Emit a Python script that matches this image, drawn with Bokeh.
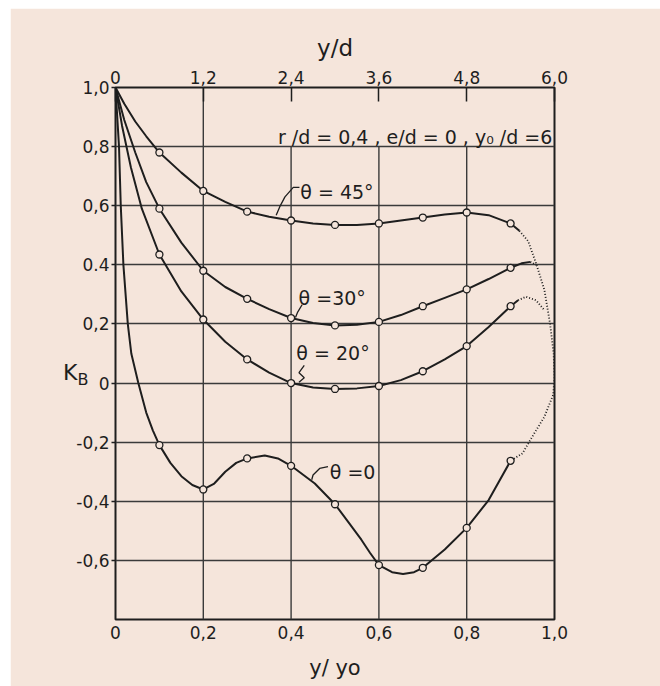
from bokeh.plotting import figure
from bokeh.models import Range1d, LinearAxis, FixedTicker, Label
from bokeh.embed import file_html
from bokeh.resources import INLINE

# ---------------- data ----------------
# marker positions (y/y0) and K_B values
x_pts = [0.1, 0.2, 0.3, 0.4, 0.5, 0.6, 0.7, 0.8, 0.9]
k45_pts = [0.78, 0.65, 0.58, 0.55, 0.535, 0.54, 0.56, 0.577, 0.54]
k30_pts = [0.59, 0.38, 0.285, 0.22, 0.195, 0.207, 0.26, 0.317, 0.39]
k20_pts = [0.435, 0.215, 0.08, 0.0, -0.02, -0.01, 0.04, 0.125, 0.26]
k0_pts = [-0.21, -0.36, -0.255, -0.28, -0.41, -0.616, -0.625, -0.49, -0.263]

# traced curve paths
c45_x = [0, 0.02, 0.045, 0.07, 0.1, 0.15, 0.2, 0.25, 0.3, 0.35, 0.4, 0.45, 0.5, 0.55,
         0.6, 0.65, 0.7, 0.75, 0.8, 0.85, 0.9, 0.92]
c45_y = [1.0, 0.945, 0.885, 0.835, 0.78, 0.712, 0.65, 0.613, 0.58, 0.563, 0.55, 0.54,
         0.535, 0.535, 0.54, 0.55, 0.56, 0.57, 0.577, 0.568, 0.54, 0.515]
c30_x = [0, 0.02, 0.045, 0.07, 0.1, 0.15, 0.2, 0.25, 0.3, 0.35, 0.4, 0.45, 0.5, 0.55,
         0.6, 0.65, 0.7, 0.75, 0.8, 0.85, 0.9, 0.925, 0.945]
c30_y = [1.0, 0.89, 0.78, 0.68, 0.59, 0.475, 0.38, 0.325, 0.285, 0.25, 0.22, 0.203,
         0.195, 0.197, 0.207, 0.23, 0.26, 0.288, 0.317, 0.352, 0.39, 0.405, 0.41]
c20_x = [0, 0.015, 0.035, 0.06, 0.1, 0.15, 0.2, 0.25, 0.3, 0.35, 0.4, 0.45, 0.5, 0.55,
         0.6, 0.65, 0.7, 0.75, 0.8, 0.85, 0.9, 0.917]
c20_y = [1.0, 0.87, 0.73, 0.59, 0.435, 0.31, 0.215, 0.14, 0.08, 0.035, 0.0, -0.015,
         -0.02, -0.018, -0.01, 0.01, 0.04, 0.08, 0.125, 0.19, 0.26, 0.28]
c0_x = [0, 0.008, 0.012, 0.018, 0.028, 0.036, 0.052, 0.07, 0.085, 0.1, 0.125, 0.15,
        0.175, 0.2, 0.225, 0.25, 0.275, 0.3, 0.34, 0.37, 0.4, 0.454, 0.5, 0.53, 0.56,
        0.58, 0.6, 0.63, 0.655, 0.68, 0.7, 0.75, 0.8, 0.85, 0.9]
c0_y = [1.0, 0.8, 0.6, 0.4, 0.2, 0.1, 0.0, -0.1, -0.16, -0.21, -0.27, -0.315,
        -0.345, -0.36, -0.34, -0.30, -0.27, -0.255, -0.245, -0.255, -0.28, -0.34,
        -0.41, -0.47, -0.53, -0.575, -0.616, -0.64, -0.646, -0.64, -0.625, -0.563,
        -0.49, -0.396, -0.263]

# dotted extrapolations
dot_x = [0.92, 0.94, 0.958, 0.977, 0.99, 0.998, 1.0, 0.997, 0.977, 0.95, 0.927, 0.9]
dot_y = [0.515, 0.48, 0.405, 0.315, 0.2, 0.1, 0.02, -0.04, -0.114, -0.18, -0.238, -0.263]
dot30_x = [0.945, 0.958]
dot30_y = [0.41, 0.40]
dot20_x = [0.917, 0.935, 0.958, 0.975]
dot20_y = [0.28, 0.292, 0.28, 0.25]

# ticks and labels
x_ticks = [0, 0.2, 0.4, 0.6, 0.8, 1.0]
x_labels = ["0", "0,2", "0,4", "0,6", "0,8", "1,0"]
top_labels = ["0", "1,2", "2,4", "3,6", "4,8", "6,0"]
y_ticks = [-0.6, -0.4, -0.2, 0, 0.2, 0.4, 0.6, 0.8, 1.0]
y_labels = ["-0,6", "-0,4", "-0,2", "0", "0,2", "0.4", "0,6", "0,8", "1,0"]
grid_y = [-0.6, -0.4, -0.2, 0, 0.2, 0.4, 0.6, 0.8]
full_vgrid = [0.2]
part_vgrid = [0.4, 0.6, 0.8]

# ---------------- style ----------------
BG = "#f5e5db"
INK = "#1e1e1e"
GRID = "#3a3a3a"
FONT = "DejaVu Sans"

p = figure(width=650, height=678, x_range=Range1d(0, 1), y_range=Range1d(-0.8, 1.0),
           output_backend="svg", toolbar_location=None,
           min_border_left=105, min_border_right=106, min_border_top=79, min_border_bottom=67,
           background_fill_color=BG, border_fill_color=BG,
           outline_line_color=INK, outline_line_width=2)
p.margin = (8, 0, 0, 10)

p.xgrid.visible = False
p.ygrid.ticker = FixedTicker(ticks=grid_y)
p.ygrid.grid_line_color = GRID
p.ygrid.grid_line_width = 1.4

# vertical grid lines
p.segment(x0=full_vgrid, y0=[-0.8] * len(full_vgrid), x1=full_vgrid, y1=[1.0] * len(full_vgrid),
          line_color=GRID, line_width=1.4)
p.segment(x0=part_vgrid, y0=[-0.8] * len(part_vgrid), x1=part_vgrid, y1=[0.8] * len(part_vgrid),
          line_color=GRID, line_width=1.4)


def style_axis(ax, ticks, labels, size="17px"):
    ax.ticker = FixedTicker(ticks=ticks)
    ax.major_label_overrides = {t: l for t, l in zip(ticks, labels)}
    ax.minor_tick_line_color = None
    ax.axis_line_color = None
    ax.major_tick_line_color = INK
    ax.major_tick_line_width = 1.5
    ax.major_label_text_font = FONT
    ax.major_label_text_font_size = size
    ax.major_label_text_color = INK
    ax.axis_label_text_font = FONT
    ax.axis_label_text_font_style = "normal"
    ax.axis_label_text_color = INK


xb = p.xaxis[0]
style_axis(xb, x_ticks, x_labels)
xb.major_tick_out = 0
xb.major_tick_in = 0
xb.major_label_standoff = 6
xb.axis_label = "y/ yo"
xb.axis_label_text_font_size = "21px"
xb.axis_label_standoff = 14

yl = p.yaxis[0]
style_axis(yl, y_ticks, y_labels)
yl.major_tick_out = 4
yl.major_tick_in = 0
yl.major_label_standoff = 2

xt = LinearAxis()
style_axis(xt, x_ticks, top_labels)
xt.major_tick_in = 14
xt.major_tick_out = 0
xt.major_label_standoff = 4
xt.axis_label = "y/d"
xt.axis_label_text_font_size = "23px"
xt.axis_label_standoff = 7
p.add_layout(xt, "above")


# K_B label: two tick-less left axes; an empty first line with a chosen
# line height drops each label below the frame centre
def label_axis(text, size, line_height, standoff):
    ax = LinearAxis(ticker=FixedTicker(ticks=[]))
    ax.axis_line_color = None
    ax.major_tick_line_color = None
    ax.minor_tick_line_color = None
    ax.major_tick_out = 0
    ax.major_tick_in = 0
    ax.major_label_text_font_size = "0px"
    ax.axis_label = "\n" + text
    ax.axis_label_orientation = "horizontal"
    ax.axis_label_text_font = FONT
    ax.axis_label_text_font_style = "normal"
    ax.axis_label_text_font_size = size
    ax.axis_label_text_line_height = line_height
    ax.axis_label_text_color = INK
    ax.axis_label_standoff = standoff
    p.add_layout(ax, "left")
    return ax


label_axis("B", "16px", 2.75, -15)
label_axis("K", "22px", 1.55, -4)

# curves
for cx, cy in [(c45_x, c45_y), (c30_x, c30_y), (c20_x, c20_y), (c0_x, c0_y)]:
    p.line(cx, cy, line_color=INK, line_width=2.0, line_join="round")

for dx, dy in [(dot_x, dot_y), (dot30_x, dot30_y), (dot20_x, dot20_y)]:
    p.line(dx, dy, line_color=INK, line_width=1.8, line_dash="1 2")

for ky in [k45_pts, k30_pts, k20_pts, k0_pts]:
    p.scatter(x_pts, ky, marker="circle", size=7, fill_color=BG, line_color=INK, line_width=1.3)

# leader lines
leaders = [
    ([0.419, 0.405, 0.386, 0.374, 0.366], [0.662, 0.662, 0.63, 0.596, 0.568]),
    ([0.425, 0.415, 0.41], [0.265, 0.24, 0.222]),
    ([0.43, 0.418, 0.43, 0.418], [0.06, 0.035, 0.018, 0.003]),
    ([0.484, 0.465, 0.45, 0.447], [-0.283, -0.289, -0.311, -0.327]),
]
for lx, ly in leaders:
    p.line(lx, ly, line_color=INK, line_width=1.3)


# annotations
def add_text(x, y, text, size="19px", align="left"):
    p.add_layout(Label(x=x, y=y, text=text, text_font=FONT, text_font_size=size,
                       text_color=INK, text_align=align, text_baseline="middle"))


add_text(0.995, 0.834, "r /d = 0,4 , e/d = 0 , y\u2080 /d =6", align="right")
add_text(0.421, 0.646, "\u03b8 = 45\u00b0")
add_text(0.417, 0.289, "\u03b8 =30\u00b0")
add_text(0.412, 0.103, "\u03b8 = 20\u00b0")
add_text(0.488, -0.30, "\u03b8 =0")

open("out.html", "w").write(file_html(p, INLINE))
